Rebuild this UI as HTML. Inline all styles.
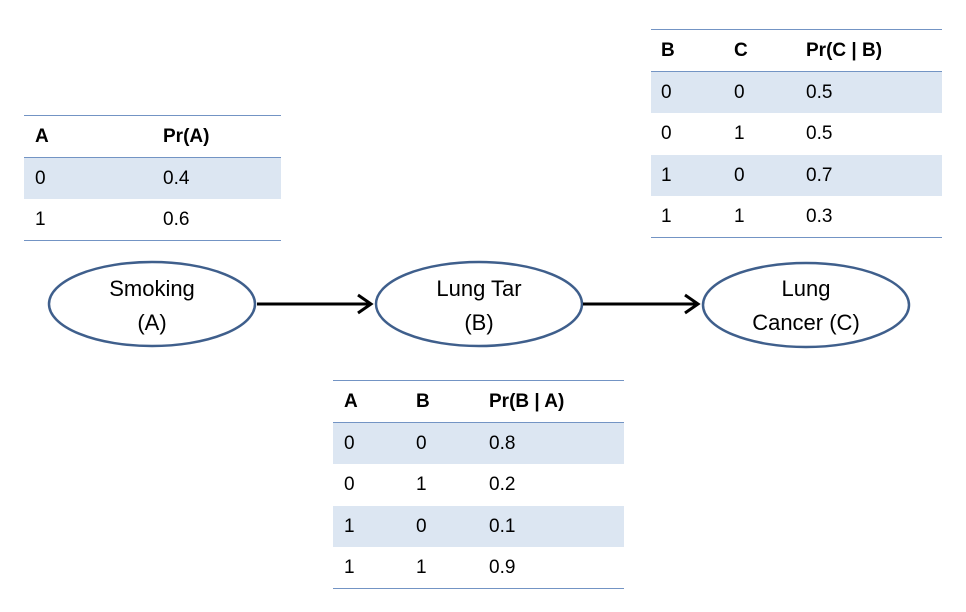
<!DOCTYPE html>
<html><head><style>
body{margin:0;width:966px;height:612px;background:#fff;font-family:"Liberation Sans",sans-serif;position:relative;overflow:hidden}
.t{position:absolute;border-top:1.5px solid #7394c4}
.r{height:41.5px;border-bottom:1.5px solid #7394c4;box-sizing:border-box;position:relative;font-size:19px;color:#000}
.r.h{font-weight:bold}
.r.b{background:#dce6f2;border-bottom:none}
.r span{position:absolute;top:10px}
</style></head><body>
<div class="t" style="left:24px;top:115px;width:257px">
<div class="r h"><span style="left:11px">A</span><span style="left:139px">Pr(A)</span></div>
<div class="r b"><span style="left:11px">0</span><span style="left:139px">0.4</span></div>
<div class="r"><span style="left:11px">1</span><span style="left:139px">0.6</span></div>
</div>
<div class="t" style="left:651px;top:29px;width:291px">
<div class="r h"><span style="left:10px">B</span><span style="left:83px">C</span><span style="left:155px">Pr(C | B)</span></div>
<div class="r b"><span style="left:10px">0</span><span style="left:83px">0</span><span style="left:155px">0.5</span></div>
<div class="r" style="border-bottom:none"><span style="left:10px">0</span><span style="left:83px">1</span><span style="left:155px">0.5</span></div>
<div class="r b"><span style="left:10px">1</span><span style="left:83px">0</span><span style="left:155px">0.7</span></div>
<div class="r"><span style="left:10px">1</span><span style="left:83px">1</span><span style="left:155px">0.3</span></div>
</div>
<div class="t" style="left:333px;top:380px;width:291px">
<div class="r h"><span style="left:11px">A</span><span style="left:83px">B</span><span style="left:156px">Pr(B | A)</span></div>
<div class="r b"><span style="left:11px">0</span><span style="left:83px">0</span><span style="left:156px">0.8</span></div>
<div class="r" style="border-bottom:none"><span style="left:11px">0</span><span style="left:83px">1</span><span style="left:156px">0.2</span></div>
<div class="r b"><span style="left:11px">1</span><span style="left:83px">0</span><span style="left:156px">0.1</span></div>
<div class="r"><span style="left:11px">1</span><span style="left:83px">1</span><span style="left:156px">0.9</span></div>
</div>
<svg width="966" height="612" style="position:absolute;left:0;top:0">
<g fill="#fff" stroke="#3f5f8c" stroke-width="2.5">
<ellipse cx="152" cy="304" rx="103" ry="42"/>
<ellipse cx="479" cy="304" rx="103" ry="42"/>
<ellipse cx="806" cy="305" rx="103" ry="42"/>
</g>
<g stroke="#000" stroke-width="3" fill="none">
<line x1="257" y1="304" x2="370" y2="304"/><polyline points="358,295 371,304 358,313"/>
<line x1="583" y1="304" x2="697" y2="304"/><polyline points="685,295 698,304 685,313"/>
</g>
<g font-family="Liberation Sans,sans-serif" font-size="22" text-anchor="middle" fill="#000">
<text x="152" y="296">Smoking</text><text x="152" y="330">(A)</text>
<text x="479" y="296">Lung Tar</text><text x="479" y="330">(B)</text>
<text x="806" y="296">Lung</text><text x="806" y="330">Cancer (C)</text>
</g>
</svg>
</body></html>
